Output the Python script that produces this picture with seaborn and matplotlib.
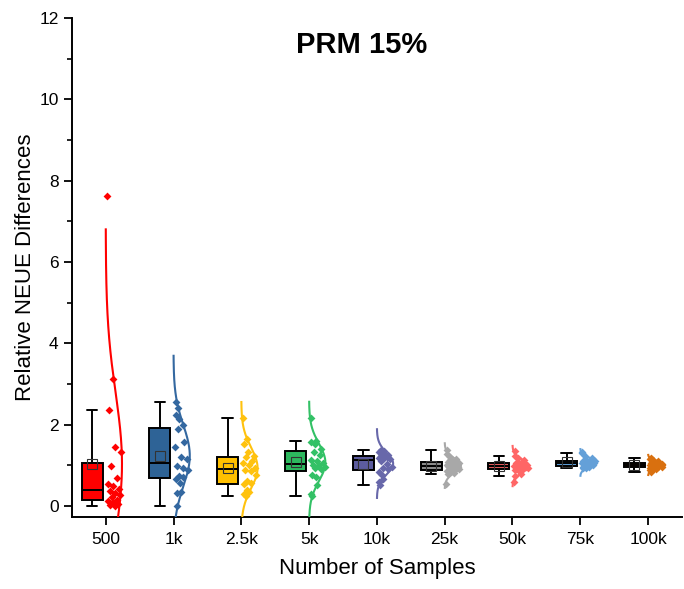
import numpy as np
import pandas as pd
import matplotlib
matplotlib.use("Agg")
import matplotlib.pyplot as plt
import seaborn as sns
from matplotlib.ticker import MultipleLocator

categories = ["500", "1k", "2.5k", "5k", "10k", "25k", "50k", "75k", "100k"]

v_500 = [0.0, 0.02, 0.06, 0.10, 0.13, 0.16, 0.22, 0.26, 0.31, 0.36,
         0.42, 0.49, 0.54, 0.68, 0.98, 1.34, 1.46, 2.37, 3.13, 7.62]
v_1k = [0.01, 0.33, 0.35, 0.57, 0.66, 0.71, 0.74, 0.89, 0.93, 0.98,
        1.16, 1.20, 1.44, 1.58, 1.90, 1.99, 2.13, 2.24, 2.40, 2.55]
v_2_5k = [0.25, 0.29, 0.35, 0.39, 0.53, 0.56, 0.61, 0.76, 0.86, 0.89,
          0.93, 1.01, 1.05, 1.11, 1.20, 1.23, 1.34, 1.52, 1.66, 2.17]
v_5k = [0.25, 0.30, 0.52, 0.71, 0.76, 0.90, 0.93, 0.95, 1.00, 1.01,
        1.05, 1.11, 1.13, 1.25, 1.33, 1.40, 1.52, 1.58, 1.60, 2.16]
v_10k = [0.52, 0.58, 0.66, 0.76, 0.84, 0.90, 0.94, 0.97, 1.03, 1.10,
         1.15, 1.17, 1.19, 1.21, 1.23, 1.25, 1.29, 1.34, 1.36, 1.39]
v_25k = [0.55, 0.78, 0.82, 0.85, 0.87, 0.88, 0.89, 0.91, 0.93, 0.95, 0.97, 0.98,
         1.00, 1.01, 1.03, 1.05, 1.07, 1.08, 1.10, 1.12, 1.16, 1.21, 1.28, 1.38]
v_50k = [0.60, 0.74, 0.80, 0.85, 0.88, 0.90, 0.91, 0.93, 0.95, 0.96, 0.97, 0.98,
         0.98, 0.99, 1.00, 1.02, 1.04, 1.06, 1.07, 1.09, 1.12, 1.17, 1.23, 1.36]
v_75k = [0.93, 0.94, 0.95, 0.96, 0.97, 0.98, 0.98, 1.00, 1.03, 1.05, 1.06, 1.06,
         1.07, 1.08, 1.09, 1.10, 1.10, 1.11, 1.11, 1.13, 1.17, 1.22, 1.30, 1.34]
v_100k = [0.84, 0.88, 0.91, 0.93, 0.94, 0.95, 0.95, 0.97, 0.98, 0.99, 1.00, 1.01,
          1.01, 1.02, 1.03, 1.04, 1.05, 1.06, 1.07, 1.08, 1.10, 1.12, 1.15, 1.17]

series = [v_500, v_1k, v_2_5k, v_5k, v_10k, v_25k, v_50k, v_75k, v_100k]

box_colors = ["#FF0000", "#2E6396", "#FFC000", "#2DB85E", "#5C5C9E",
              "#8C8C8C", "#E05A5A", "#5B9BD5", "#C8650E"]
point_colors = ["#FF0000", "#3468A0", "#FFC20E", "#33C166", "#6868AA",
                "#A8A8A8", "#FF6666", "#64A0D8", "#D9700F"]

title = "PRM 15%"
xlabel = "Number of Samples"
ylabel = "Relative NEUE Differences"

# ---------------------------------------------------------------
sns.set_theme(style="ticks")
plt.rcParams["font.family"] = ["Liberation Sans", "DejaVu Sans"]
plt.rcParams["text.color"] = "black"
plt.rcParams["axes.labelcolor"] = "black"

fig = plt.figure(figsize=(6.84, 5.89), dpi=100)
ax = fig.add_axes([0.105, 0.1222, 0.892, 0.8472])

BOX_SHIFT = -0.20
BOX_W = 0.31
CURVE_W = 0.24
K = 3.3

rows = []
for i, (cat, vals) in enumerate(zip(categories, series)):
    for v in vals:
        rows.append({"cat": cat, "idx": i, "value": v})
df = pd.DataFrame(rows)
df["boxpos"] = df["idx"] + BOX_SHIFT

sns.boxplot(data=df, x="boxpos", y="value", hue="cat", hue_order=categories,
            palette=box_colors, native_scale=True, width=BOX_W, dodge=False,
            showfliers=False, showmeans=True, linecolor="black", linewidth=1.4,
            saturation=1, legend=False, ax=ax,
            meanprops=dict(marker="s", markerfacecolor="none",
                           markeredgecolor="#333333", markeredgewidth=0.8,
                           markersize=7.5))

# distribution curves and jittered points
golden = 0.6180339887
for i, vals in enumerate(series):
    arr = np.asarray(vals, dtype=float)
    m, s = arr.mean(), arr.std(ddof=1)
    yy = np.linspace(m - K * s, m + K * s, 300)
    env = np.exp(-0.5 * ((yy - m) / s) ** 2)
    ax.plot(i + CURVE_W * env, yy, color=point_colors[i], lw=1.5,
            solid_capstyle="butt", zorder=3)
    u = np.array([((k + 1) * golden) % 1.0 for k in range(len(arr))])
    e_pts = np.exp(-0.5 * ((arr - m) / s) ** 2)
    xs = i + 0.02 + u * CURVE_W * e_pts * 0.95
    ax.scatter(xs, arr, marker="D", s=16, color=point_colors[i],
               linewidths=0, zorder=4)

ax.set_xlim(-0.5, 8.5)
ax.set_ylim(-0.27, 12)
ax.set_xticks(range(len(categories)))
ax.set_xticklabels(categories)
ax.yaxis.set_major_locator(MultipleLocator(2))
ax.yaxis.set_minor_locator(MultipleLocator(1))
ax.tick_params(axis="both", which="major", direction="out", length=6,
               width=1.3, labelsize=12.5, color="black", labelcolor="black")
ax.tick_params(axis="y", which="minor", direction="out", length=3.5,
               width=1.2, color="black")
ax.tick_params(axis="x", pad=5)
for sp in ["top", "right"]:
    ax.spines[sp].set_visible(False)
for sp in ["left", "bottom"]:
    ax.spines[sp].set_linewidth(1.4)
    ax.spines[sp].set_color("black")

ax.set_xlabel(xlabel, fontsize=16, labelpad=8)
ax.set_ylabel(ylabel, fontsize=16, labelpad=2)
ax.text(0.475, 0.945, title, transform=ax.transAxes, ha="center", va="center",
        fontsize=21, fontweight="bold")

fig.savefig("out.png", dpi=100)
